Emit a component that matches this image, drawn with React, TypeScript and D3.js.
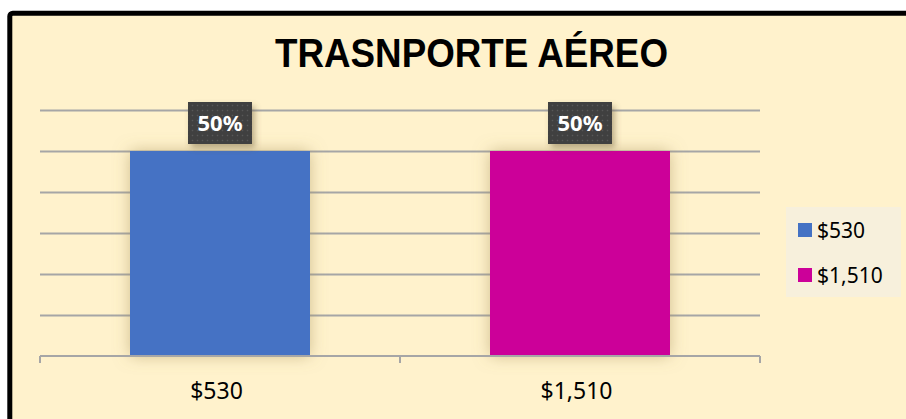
import * as d3 from "d3";
import { useEffect, useRef } from "react";

const categories = ["$530", "$1,510"];
const shares = [0.5, 0.5];
const barColors = ["#4472c4", "#cc0099"];
const yTicks = [0, 0.1, 0.2, 0.3, 0.4, 0.5, 0.6];
const title = "TRASNPORTE AÉREO";

const W = 906;
const H = 419;

const App = () => {
  const ref = useRef<SVGSVGElement>(null);

  useEffect(() => {
    const svg = d3.select(ref.current);
    svg.selectAll("*").remove();

    const margin = { top: 110, bottom: 63, left: 40, right: 146 };
    const plotW = W - margin.left - margin.right;

    const x = d3.scaleBand().domain(categories).range([margin.left, margin.left + plotW]).paddingInner(0).paddingOuter(0);
    const y = d3.scaleLinear().domain([0, 0.6]).range([H - margin.bottom, margin.top]);

    const defs = svg.append("defs");
    const glow = defs.append("filter").attr("id", "glow").attr("x", "-30%").attr("y", "-30%").attr("width", "160%").attr("height", "160%");
    glow.append("feDropShadow").attr("dx", 0).attr("dy", 0).attr("stdDeviation", 8)
      .attr("flood-color", "#a08850").attr("flood-opacity", 0.5);
    const shadow = defs.append("filter").attr("id", "shadow").attr("x", "-30%").attr("y", "-30%").attr("width", "160%").attr("height", "160%");
    shadow.append("feDropShadow").attr("dx", 3).attr("dy", 4).attr("stdDeviation", 3)
      .attr("flood-color", "#6b5a30").attr("flood-opacity", 0.45);
    const pat = defs.append("pattern").attr("id", "dots").attr("width", 5).attr("height", 5).attr("patternUnits", "userSpaceOnUse");
    pat.append("rect").attr("width", 5).attr("height", 5).attr("fill", "#404040");
    pat.append("circle").attr("cx", 2.5).attr("cy", 2.5).attr("r", 0.8).attr("fill", "#585858");

    // chart area
    svg.append("rect").attr("x", 0).attr("y", 0).attr("width", W).attr("height", H).attr("fill", "#ffffff");
    svg.append("rect").attr("x", 9.8).attr("y", 13.2).attr("width", W + 20).attr("height", H + 20).attr("rx", 3)
      .attr("fill", "#fff2cc").attr("stroke", "#000").attr("stroke-width", 5);

    svg.append("text").attr("x", 471.5).attr("y", 67).attr("text-anchor", "middle")
      .attr("font-family", "Liberation Sans, Arial, sans-serif").attr("font-weight", "bold")
      .attr("font-size", 40).attr("textLength", 393).attr("lengthAdjust", "spacingAndGlyphs")
      .attr("fill", "#000").text(title);

    // gridlines
    svg.append("g").selectAll("line").data(yTicks.slice(1)).join("line")
      .attr("x1", margin.left).attr("x2", margin.left + plotW)
      .attr("y1", (d) => Math.round(y(d)) + 0.5).attr("y2", (d) => Math.round(y(d)) + 0.5)
      .attr("stroke", "#a6a6a6").attr("stroke-width", 2);

    // bars
    const bw = x.bandwidth() / 2;
    svg.append("g").selectAll("rect").data(shares).join("rect")
      .attr("x", (_, i) => x(categories[i])! + x.bandwidth() / 2 - bw / 2)
      .attr("y", (d) => y(d))
      .attr("width", bw)
      .attr("height", (d) => y(0) - y(d))
      .attr("fill", (_, i) => barColors[i])
      .attr("filter", "url(#glow)");

    // x axis
    const xAxis = svg.append("g").attr("transform", `translate(0, ${y(0)})`);
    xAxis.append("line").attr("x1", margin.left).attr("x2", margin.left + plotW)
      .attr("stroke", "#a6a6a6").attr("stroke-width", 2);
    const tickXs = [margin.left, ...categories.slice(1).map((c) => x(c)!), margin.left + plotW];
    xAxis.selectAll(".tk").data(tickXs).join("line").attr("class", "tk")
      .attr("x1", (d) => d).attr("x2", (d) => d).attr("y1", 0).attr("y2", 7)
      .attr("stroke", "#a6a6a6").attr("stroke-width", 2);
    xAxis.selectAll("text").data(categories).join("text")
      .attr("x", (d) => x(d)! + x.bandwidth() / 2 - 3.5).attr("y", 43)
      .attr("text-anchor", "middle").attr("font-family", "Noto Sans, sans-serif")
      .attr("font-size", 23).attr("fill", "#000").text((d) => d);

    // data labels
    const lbl = svg.append("g").selectAll("g").data(shares).join("g")
      .attr("transform", (d, i) => `translate(${x(categories[i])! + x.bandwidth() / 2}, ${y(d) - 28})`);
    lbl.append("rect").attr("x", -32).attr("y", -21).attr("width", 64).attr("height", 42)
      .attr("fill", "url(#dots)").attr("filter", "url(#shadow)");
    lbl.append("text").attr("y", 8).attr("text-anchor", "middle")
      .attr("font-family", "Noto Sans, sans-serif").attr("font-weight", "bold")
      .attr("font-size", 22).attr("fill", "#fff").text((d) => d3.format(".0%")(d));

    // legend
    const lg = svg.append("g").attr("transform", "translate(786, 207)");
    lg.append("rect").attr("width", 115).attr("height", 90).attr("fill", "#f7f0dc");
    const items = lg.selectAll("g").data(categories).join("g")
      .attr("transform", (_, i) => `translate(12, ${23 + i * 45})`);
    items.append("rect").attr("x", 0).attr("y", -7).attr("width", 14).attr("height", 14)
      .attr("fill", (_, i) => barColors[i]);
    items.append("text").attr("x", 19).attr("y", 7.5).attr("font-family", "Noto Sans, sans-serif")
      .attr("font-size", 21).attr("fill", "#000").text((d) => d);
  }, []);

  return <svg ref={ref} width={W} height={H} style={{ position: "absolute", left: 0, top: 0 }} />;
};

export default App;
